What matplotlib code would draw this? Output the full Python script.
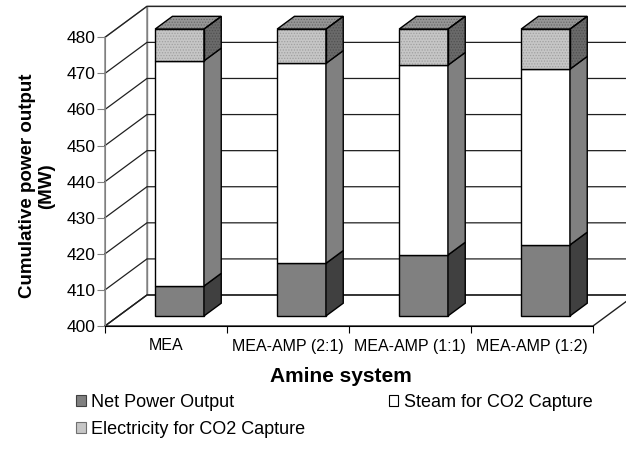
import numpy as np
import matplotlib
matplotlib.use("Agg")
import matplotlib.pyplot as plt
from matplotlib.patches import Polygon, Patch

plt.rcParams['font.family'] = ['Liberation Sans', 'DejaVu Sans']
plt.rcParams['hatch.linewidth'] = 0.6

# data (MW)
systems = ['MEA', 'MEA-AMP (2:1)', 'MEA-AMP (1:1)', 'MEA-AMP (1:2)']
net_power = np.array([408.3, 414.6, 416.9, 419.7])
steam_capture = np.array([62.4, 55.4, 52.6, 48.7])
elec_capture = np.array([8.8, 9.5, 10.0, 11.1])
yticks = [400, 410, 420, 430, 440, 450, 460, 470, 480]

ymin, ymax = 400, 480
# pseudo-3d depth offsets (in data units)
DX, DY = 0.344, 8.59
f_front, f_back = 0.323, 0.735
bar_w = 0.40

fig = plt.figure(figsize=(6.26, 4.5), dpi=100)
ax = fig.add_axes([105 / 626, 124 / 450, 488 / 626, 288.7 / 450])
ax.set_xlim(-0.5, 3.5)
ax.set_ylim(ymin, ymax)
ax.patch.set_visible(False)

x0, x1 = -0.5, 3.5
wall_ec = '#808080'
# back wall, left wall, floor
ax.add_patch(Polygon([(x0 + DX, ymin + DY), (x1 + DX, ymin + DY), (x1 + DX, ymax + DY), (x0 + DX, ymax + DY)],
                     fc='white', ec=wall_ec, lw=1, clip_on=False, zorder=0))
ax.add_patch(Polygon([(x0, ymin), (x0 + DX, ymin + DY), (x0 + DX, ymax + DY), (x0, ymax)],
                     fc='white', ec=wall_ec, lw=1, clip_on=False, zorder=0))
ax.add_patch(Polygon([(x0, ymin), (x1, ymin), (x1 + DX, ymin + DY), (x0 + DX, ymin + DY)],
                     fc='white', ec='#202020', lw=1, clip_on=False, zorder=0))
for v in yticks:
    ax.plot([x0, x0 + DX, x1 + DX], [v, v + DY, v + DY], color='#202020', lw=0.9,
            clip_on=False, zorder=1, solid_joinstyle='miter')

# bars
xc = np.arange(len(systems)) + f_front * DX
xl = xc - bar_w / 2
xr = xc + bar_w / 2
ddx = (f_back - f_front) * DX
ddy = (f_back - f_front) * DY
lift = f_front * DY

bottoms = [np.full(4, ymin), net_power, net_power + steam_capture]
tops = [net_power, net_power + steam_capture, net_power + steam_capture + elec_capture]
front_fc = ['#808080', 'white', '#c6c6c6']
side_fc = ['#404040', '#808080', '#6a6a6a']
hatch_c = [None, None, '#a0a0a0']
side_hatch_c = [None, None, '#505050']

for k in range(3):
    lo = bottoms[k] + lift
    hi = tops[k] + lift
    if hatch_c[k]:
        ax.bar(xc, hi - lo, bottom=lo, width=bar_w, color=front_fc[k], edgecolor=hatch_c[k],
               hatch='......', lw=0, zorder=3, clip_on=False)
        ax.bar(xc, hi - lo, bottom=lo, width=bar_w, fill=False, edgecolor='black', lw=1,
               zorder=4, clip_on=False)
    else:
        ax.bar(xc, hi - lo, bottom=lo, width=bar_w, color=front_fc[k], edgecolor='black',
               lw=1, zorder=3, clip_on=False)
    for i in range(4):
        pts = [(xr[i], lo[i]), (xr[i] + ddx, lo[i] + ddy), (xr[i] + ddx, hi[i] + ddy), (xr[i], hi[i])]
        if side_hatch_c[k]:
            ax.add_patch(Polygon(pts, fc=side_fc[k], ec=side_hatch_c[k], hatch='......', lw=0,
                                 zorder=3, clip_on=False))
            ax.add_patch(Polygon(pts, fill=False, ec='black', lw=1, zorder=4, clip_on=False))
        else:
            ax.add_patch(Polygon(pts, fc=side_fc[k], ec='black', lw=1, zorder=3, clip_on=False))

# top faces
top = tops[2] + lift
for i in range(4):
    pts = [(xl[i], top[i]), (xr[i], top[i]), (xr[i] + ddx, top[i] + ddy), (xl[i] + ddx, top[i] + ddy)]
    ax.add_patch(Polygon(pts, fc='#969696', ec='#6a6a6a', hatch='......', lw=0, zorder=3, clip_on=False))
    ax.add_patch(Polygon(pts, fill=False, ec='black', lw=1, zorder=4, clip_on=False))

# axes styling
for s in ['top', 'right']:
    ax.spines[s].set_visible(False)
ax.spines['left'].set_color('#808080')
ax.spines['bottom'].set_color('black')
ax.spines['left'].set_zorder(2)
ax.set_yticks(yticks)
ax.set_xticks([-0.5, 0.5, 1.5, 2.5, 3.5])
ax.set_xticklabels([])
ax.set_xticks(range(4), minor=True)
ax.set_xticklabels(systems, minor=True, fontsize=11.5)
ax.tick_params(axis='x', which='major', direction='out', length=5, color='black')
ax.tick_params(axis='x', which='minor', length=0, pad=9)
ax.tick_params(axis='y', direction='out', length=6, color='#808080', labelsize=12.5, pad=1)

fig.text(37 / 626, 1 - 186 / 450, 'Cumulative power output\n(MW)', rotation=90,
         ha='center', va='center', multialignment='center', fontsize=13.5, fontweight='bold',
         linespacing=1.1)
fig.text(341 / 626, 1 - 377 / 450, 'Amine system', ha='center', va='center',
         fontsize=15, fontweight='bold')

handles = [Patch(fc='#808080', ec='#404040', lw=0.8),
           Patch(fc='#c6c6c6', ec='#707070', lw=0.8),
           Patch(fc='white', ec='black', lw=0.8)]
labels = ['Net Power Output', 'Electricity for CO2 Capture', 'Steam for CO2 Capture']
fig.legend(handles, labels, ncol=2, loc='upper left', bbox_to_anchor=(76 / 626, 1 - 394 / 450),
           frameon=False, fontsize=13, handlelength=0.55, handleheight=0.55, handletextpad=0.3,
           columnspacing=4.6, labelspacing=0.55, borderaxespad=0, borderpad=0)

fig.savefig('out.png', dpi=100)
